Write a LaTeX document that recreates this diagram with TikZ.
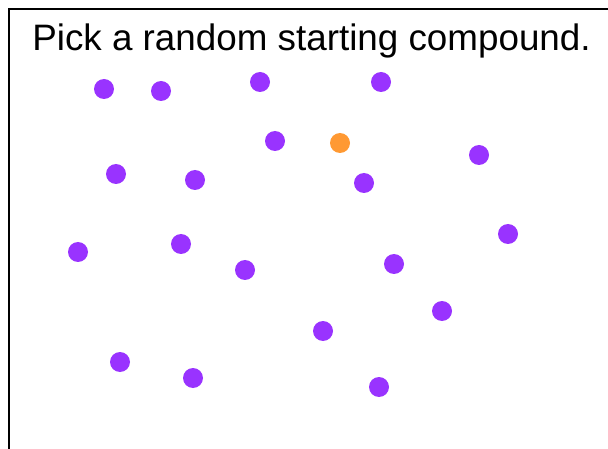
\documentclass[tikz,border=0pt]{standalone}
\usepackage{fontspec}
\setmainfont{Liberation Sans}
\definecolor{dotpurple}{HTML}{9933FF}
\definecolor{dotorange}{HTML}{FF9933}
\begin{document}
\begin{tikzpicture}[x=1pt,y=-1pt,
  cpd/.style={circle,fill=dotpurple,minimum size=20pt,inner sep=0pt},
  start/.style={circle,fill=dotorange,minimum size=20pt,inner sep=0pt}]
\useasboundingbox (0,0) rectangle (608,449);
\draw[line width=2pt] (9,449) -- (9,9) -- (608,9);
\node[font=\fontsize{36.8}{44}\selectfont,anchor=base,inner sep=0pt] (title) at (311.5,51) {Pick a random starting compound.};
\node[cpd] (c1) at (104,89) {};
\node[cpd] (c2) at (161,91) {};
\node[cpd] (c3) at (260,82) {};
\node[cpd] (c4) at (381,82) {};
\node[cpd] (c5) at (275,141) {};
\node[start] (s) at (340,143) {};
\node[cpd] (c6) at (479,155) {};
\node[cpd] (c7) at (116,174) {};
\node[cpd] (c8) at (195,180) {};
\node[cpd] (c9) at (364,183) {};
\node[cpd] (c10) at (508,234) {};
\node[cpd] (c11) at (78,252) {};
\node[cpd] (c12) at (181,244) {};
\node[cpd] (c13) at (245,270) {};
\node[cpd] (c14) at (394,264) {};
\node[cpd] (c15) at (442,311) {};
\node[cpd] (c16) at (323,331) {};
\node[cpd] (c17) at (120,362) {};
\node[cpd] (c18) at (193,378) {};
\node[cpd] (c19) at (379,387) {};
\end{tikzpicture}
\end{document}
